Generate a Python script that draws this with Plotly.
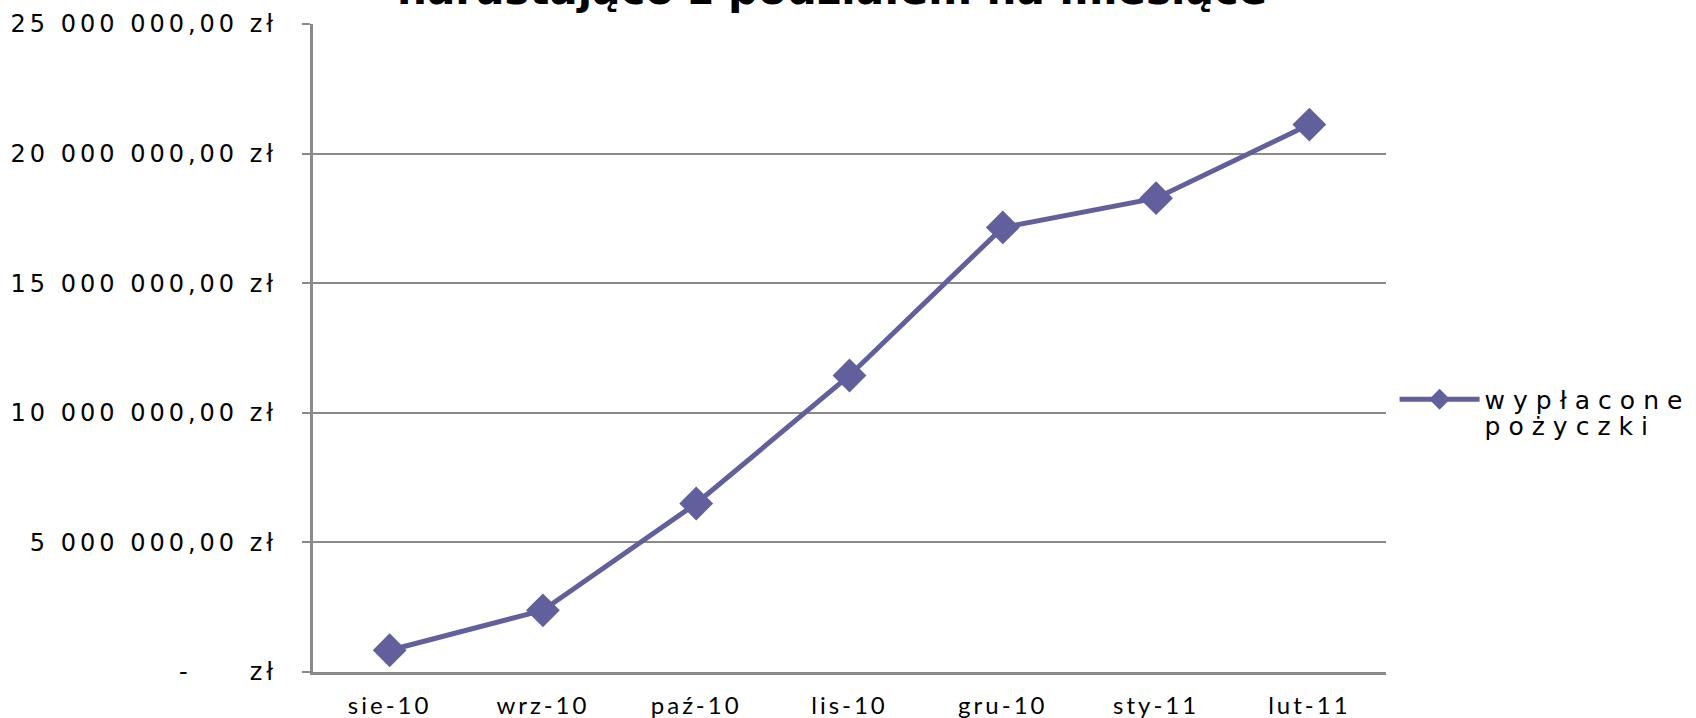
import plotly.graph_objects as go

months = ["sie-10", "wrz-10", "paź-10", "lis-10", "gru-10", "sty-11", "lut-11"]
loans = [840000, 2380000, 6500000, 11440000, 17150000, 18280000, 21120000]
series_name = "wypłacone<br>pożyczki"
title_text = "narastająco z podziałem na miesiące"
ytick_vals = [0, 5000000, 10000000, 15000000, 20000000, 25000000]
ytick_text = ["-\u00a0\u00a0\u00a0\u00a0\u00a0zł", "5\u00a0000\u00a0000,00\u00a0zł", "10\u00a0000\u00a0000,00\u00a0zł",
              "15\u00a0000\u00a0000,00\u00a0zł", "20\u00a0000\u00a0000,00\u00a0zł", "25\u00a0000\u00a0000,00\u00a0zł"]

LINE_COLOR = "#62609c"
GRID = "#8a8a8a"

fig = go.Figure()
fig.add_trace(go.Scatter(
    x=list(range(len(months))), y=loans, name=series_name,
    mode="lines+markers",
    line=dict(color=LINE_COLOR, width=5),
    marker=dict(symbol="diamond", size=26, color=LINE_COLOR),
))

fig.update_layout(
    width=1696, height=718,
    margin=dict(l=313, r=310, t=24, b=46),
    paper_bgcolor="white", plot_bgcolor="white",
    showlegend=True,
    legend=dict(x=1.008, y=0.456, xanchor="left", yanchor="top", valign="top",
                font=dict(family="DejaVu Sans", size=25, color="black"),
                bgcolor="rgba(0,0,0,0)", itemwidth=80),
    annotations=[dict(text="<b>" + title_text + "</b>", xref="paper", yref="paper",
                      x=0.484, y=1.0535, xanchor="center", yanchor="middle", showarrow=False,
                      font=dict(family="DejaVu Sans", size=42, color="black"))],
)
fig.update_xaxes(
    range=[-0.5, len(months) - 0.5],
    tickvals=list(range(len(months))), ticktext=months,
    showgrid=False, showline=True, linecolor=GRID, linewidth=3,
    ticks="", ticklabelstandoff=10, automargin=False,
    tickfont=dict(family="Lato", size=24, color="black"),
    zeroline=False,
)
fig.update_yaxes(
    range=[0, 25000000],
    tickvals=ytick_vals, ticktext=ytick_text,
    showgrid=True, gridcolor=GRID, gridwidth=2,
    showline=True, linecolor=GRID, linewidth=3,
    ticks="outside", ticklen=8, tickcolor=GRID, tickwidth=2,
    ticklabelstandoff=20, automargin=False,
    tickfont=dict(family="DejaVu Sans", size=24, color="black"),
    zeroline=False,
)

post = """
document.body.style.margin = '0';
document.body.style.padding = '0';
var gd = document.getElementById('{plot_id}');
function ls(){
  gd.querySelectorAll('.ytick text').forEach(function(t){t.style.letterSpacing='4px';});
  gd.querySelectorAll('.xtick text').forEach(function(t){t.style.letterSpacing='3px';});
  gd.querySelectorAll('.legendtext').forEach(function(t){t.style.letterSpacing='8px';});
  gd.querySelectorAll('.legend .scrollbox').forEach(function(e){e.removeAttribute('clip-path');});
  gd.querySelectorAll('.legend').forEach(function(e){e.removeAttribute('clip-path');});
  gd.querySelectorAll('.legendlines path').forEach(function(p){p.setAttribute('d','M5,0h80');});
  gd.querySelectorAll('.legendpoints path.scatterpts').forEach(function(p){p.setAttribute('transform','translate(45,0)');});
  gd.querySelectorAll('.legendtext tspan.line').forEach(function(t){
    var dy = t.getAttribute('dy');
    if (dy && !t.dataset.fixed) { t.setAttribute('dy', (parseFloat(dy)*0.8) + 'em'); t.dataset.fixed = '1'; }
  });
}
ls();
gd.on('plotly_afterplot', ls);
"""
fig.write_html("out.html", post_script=post, config={"displayModeBar": False})
